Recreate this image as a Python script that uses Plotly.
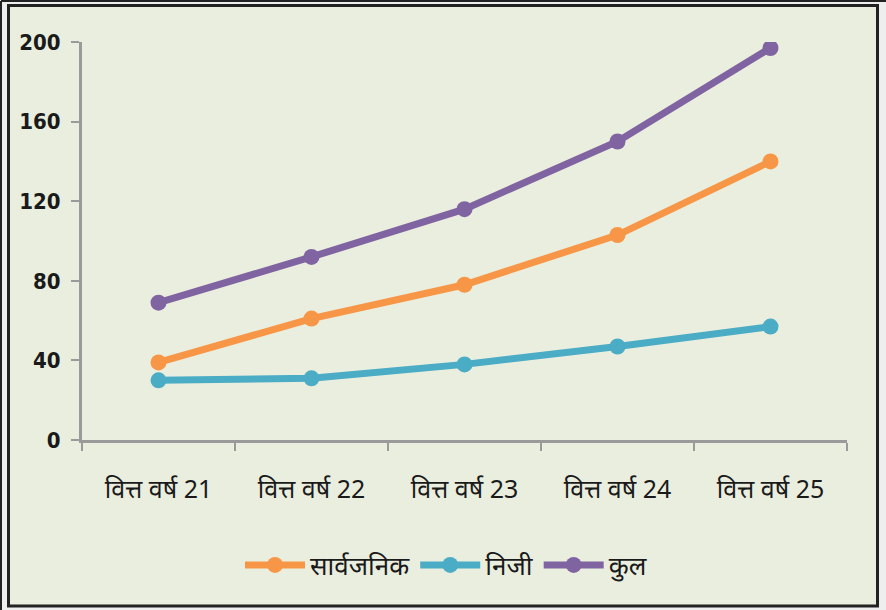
import plotly.graph_objects as go

categories = ["वित्त वर्ष 21", "वित्त वर्ष 22", "वित्त वर्ष 23", "वित्त वर्ष 24", "वित्त वर्ष 25"]
public_vals = [39, 61, 78, 103, 140]
private_vals = [30, 31, 38, 47, 57]
total_vals = [69, 92, 116, 150, 197]
series_names = ["सार्वजनिक", "निजी", "कुल"]
series_colors = ["#F79646", "#4BACC6", "#8064A2"]
y_ticks = [0, 40, 80, 120, 160, 200]

W, H = 886, 610
L, R, T, B = 82, 39, 42, 170
pw, ph = W - L - R, H - T - B

def px2paper(x, y):
    return (x - L) / pw, (H - B - y) / ph

fig = go.Figure()
for name, vals, col in zip(series_names, [public_vals, private_vals, total_vals], series_colors):
    fig.add_trace(go.Scatter(
        x=categories, y=vals, name=name, mode="lines+markers",
        line=dict(color=col, width=7),
        marker=dict(color=col, size=16),
    ))

x0, y0 = px2paper(8.5, 5.5)
x1, y1 = px2paper(877.5, 606)
shapes = [
    dict(type="rect", xref="paper", yref="paper", x0=x0, y0=y1, x1=x1, y1=y0,
         fillcolor="#EAEEDF", line=dict(color="#222222", width=3), layer="below"),
]
lx, _ = px2paper(1, 0)
_, ty = px2paper(0, 1)
_, by = px2paper(0, 610)
rx, _ = px2paper(886, 0)
shapes.append(dict(type="line", xref="paper", yref="paper", x0=lx, x1=lx, y0=by, y1=ty,
                   line=dict(color="#222222", width=2), layer="below"))
shapes.append(dict(type="line", xref="paper", yref="paper", x0=lx, x1=rx, y0=ty, y1=ty,
                   line=dict(color="#222222", width=2), layer="below"))

lgx, lgy = px2paper(446, 565)

fig.update_layout(
    width=W, height=H,
    margin=dict(l=L, r=R, t=T, b=B, autoexpand=False),
    paper_bgcolor="#EEEEEE",
    plot_bgcolor="rgba(0,0,0,0)",
    shapes=shapes,
    showlegend=True,
    legend=dict(orientation="h", x=lgx, y=lgy, xanchor="center", yanchor="middle",
                font=dict(family="Noto Sans, sans-serif", size=26, color="#1a1a1a"),
                bgcolor="rgba(0,0,0,0)", itemwidth=60, tracegroupgap=0),
    xaxis=dict(
        showline=True, linecolor="#9A9A9A", linewidth=3,
        ticks="outside", tickson="boundaries", ticklen=8, tickwidth=2, tickcolor="#9A9A9A",
        showgrid=False, zeroline=False, ticklabelstandoff=25,
        tickfont=dict(family="Noto Sans, sans-serif", size=25, color="#1a1a1a"),
        range=[-0.5, 4.5],
    ),
    yaxis=dict(
        range=[0, 200], tickvals=y_ticks, ticktext=[str(v) for v in y_ticks],
        showline=True, linecolor="#9A9A9A", linewidth=3,
        ticks="outside", ticklen=8, tickwidth=2, tickcolor="#9A9A9A",
        showgrid=False, zeroline=False, ticklabelstandoff=6,
        tickfont=dict(family="DejaVu Sans Condensed, Liberation Sans Narrow, sans-serif", size=22, color="#1a1a1a", weight="bold"),
    ),
)

fig.write_html("out.html", config={"displayModeBar": False},
               post_script="document.body.style.margin='0';document.body.style.overflow='hidden';")
